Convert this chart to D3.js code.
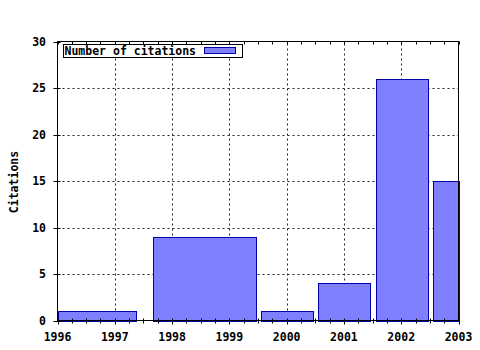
<!DOCTYPE html>
<html>
<head>
<meta charset="utf-8">
<script src="https://cdn.jsdelivr.net/npm/d3@7"></script>
<style>
  html, body { margin: 0; padding: 0; background: #fff; }
  svg { display: block; }
  text { font-family: "DejaVu Sans Mono", "Liberation Mono", monospace; font-weight: bold; font-size: 11.5px; fill: #000; }
</style>
</head>
<body>
<script>
// ---- data ----
const seriesName = "Number of citations";
const yAxisTitle = "Citations";
const binStart = [1995.5, 1997.66, 1999.55, 2000.55, 2001.56, 2002.55];
const binEnd   = [1997.37, 1999.46, 2000.46, 2001.46, 2002.46, 2003.45];
const citations = [1, 9, 1, 4, 26, 15];
const xTicks = [1996, 1997, 1998, 1999, 2000, 2001, 2002, 2003];
const yTicks = [0, 5, 10, 15, 20, 25, 30];

const W = 480, H = 350;
const L = 57.5, R = 458.5, T = 41.5, B = 320.5;

const svg = d3.select("body").append("svg").attr("width", W).attr("height", H);

const x = d3.scaleLinear().domain([1996, 2003]).range([L, R]);
const y = d3.scaleLinear().domain([0, 30]).range([B, T]);

// grid
const grid = svg.append("g").attr("stroke", "#222").attr("stroke-width", 1).attr("stroke-dasharray", "2,3");
grid.selectAll("line.v").data(xTicks.slice(1, -1)).join("line")
  .attr("x1", d => Math.round(x(d)) + 0.5).attr("x2", d => Math.round(x(d)) + 0.5)
  .attr("y1", B).attr("y2", T);
grid.selectAll("line.h").data(yTicks.slice(1, -1)).join("line")
  .attr("class", "h")
  .attr("y1", d => Math.round(y(d)) + 0.5).attr("y2", d => Math.round(y(d)) + 0.5)
  .attr("x1", L).attr("x2", R);

// bars
const bars = binStart.map((s, i) => ({ s: Math.max(s, 1996), e: Math.min(binEnd[i], 2003), v: citations[i] }));
svg.append("g").selectAll("rect").data(bars).join("rect")
  .attr("x", d => Math.round(x(d.s)) + 0.5)
  .attr("width", d => Math.round(x(d.e)) - Math.round(x(d.s)))
  .attr("y", d => Math.round(y(d.v)) + 0.5)
  .attr("height", d => Math.round(y(0)) - Math.round(y(d.v)))
  .attr("fill", "#8080ff").attr("stroke", "#0000a8").attr("stroke-width", 1);

// frame
svg.append("rect").attr("x", L).attr("y", T).attr("width", R - L).attr("height", B - T)
  .attr("fill", "none").attr("stroke", "#000").attr("stroke-width", 1);

// x ticks (major + minor, bottom and top)
const minorX = d3.range(0, 7 * 4 + 1).map(i => 1996 + i * 0.25);
const tk = svg.append("g").attr("stroke", "#000").attr("stroke-width", 1);
tk.selectAll("line.xb").data(minorX).join("line").attr("class", "xb")
  .attr("x1", d => Math.round(x(d)) + 0.5).attr("x2", d => Math.round(x(d)) + 0.5)
  .attr("y1", B - 2).attr("y2", d => B + (Number.isInteger(d) ? 4 : 3));
tk.selectAll("line.xt").data(minorX).join("line").attr("class", "xt")
  .attr("x1", d => Math.round(x(d)) + 0.5).attr("x2", d => Math.round(x(d)) + 0.5)
  .attr("y1", T).attr("y2", d => T + (Number.isInteger(d) ? 3 : 3));
tk.selectAll("line.y").data(yTicks).join("line").attr("class", "y")
  .attr("y1", d => Math.round(y(d)) + 0.5).attr("y2", d => Math.round(y(d)) + 0.5)
  .attr("x1", L - 4).attr("x2", L + 3);

// tick labels
svg.append("g").selectAll("text").data(yTicks).join("text")
  .attr("x", 46).attr("y", d => y(d) + 4).attr("text-anchor", "end").text(d => d);
svg.append("g").selectAll("text").data(xTicks).join("text")
  .attr("x", d => x(d)).attr("y", 341).attr("text-anchor", "middle").text(d => d);

// y axis title
svg.append("text").attr("transform", "translate(18,182) rotate(-90)")
  .attr("text-anchor", "middle").text(yAxisTitle);

// legend
const lg = svg.append("g");
lg.append("rect").attr("x", 63.5).attr("y", 44.5).attr("width", 179).attr("height", 13)
  .attr("fill", "#fff").attr("stroke", "#000").attr("stroke-width", 1);
lg.append("text").attr("x", 64.5).attr("y", 55).text(seriesName);
lg.append("rect").attr("x", 204.5).attr("y", 47.5).attr("width", 31).attr("height", 6)
  .attr("fill", "#8080ff").attr("stroke", "#0000a8").attr("stroke-width", 1);
</script>
</body>
</html>
